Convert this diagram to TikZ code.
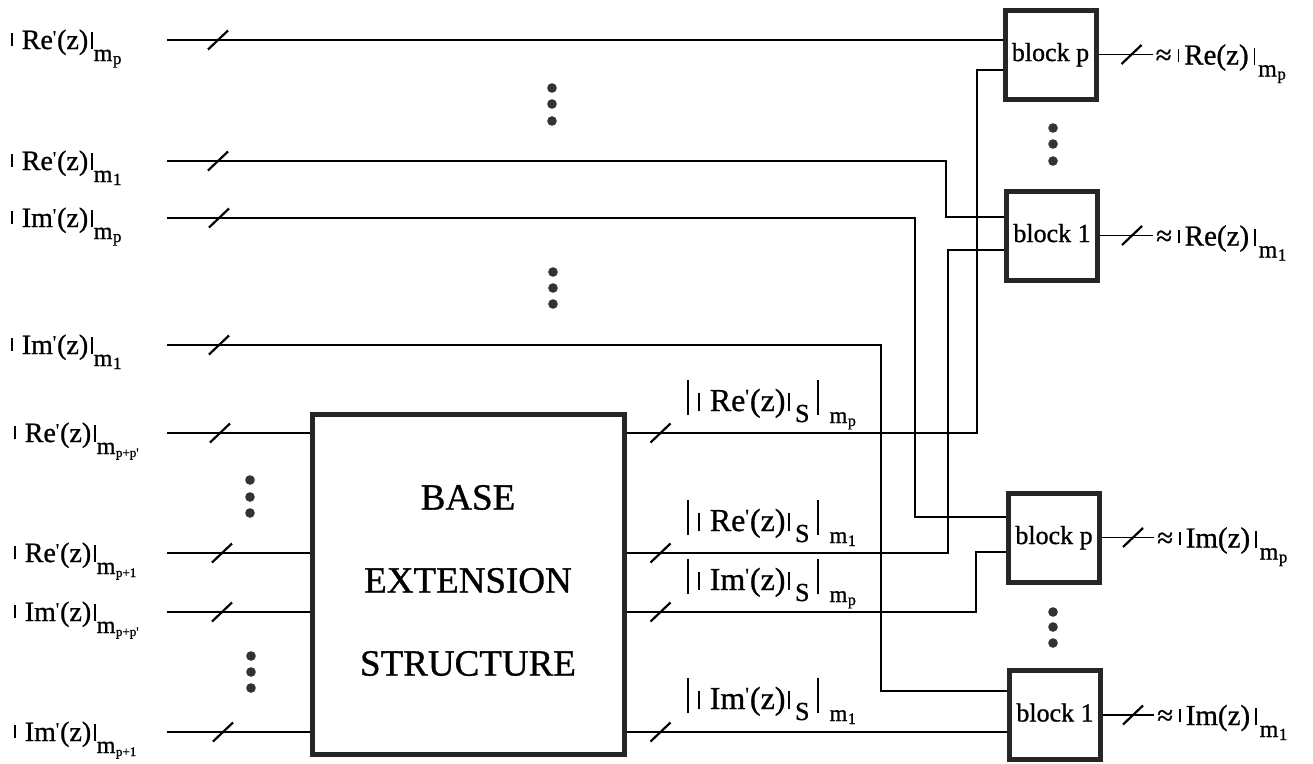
\documentclass[tikz,border=0pt]{standalone}
\usepackage{fontspec}
\setmainfont{Liberation Serif}[RawFeature={embolden=0.9}]
\usetikzlibrary{calc}
% small bars and sub/superscripts
\newcommand{\obar}{\rule[3pt]{1.6pt}{13pt}}
\newcommand{\cbar}{\rule[0pt]{1.6pt}{17pt}}
\newcommand{\prm}{\raisebox{6pt}{\fontsize{18}{18}\selectfont\textquotesingle}}
\newcommand{\subm}[2][17]{\raisebox{-12pt}{\fontsize{24}{24}\selectfont m\kern0.5pt\raisebox{-3pt}{\fontsize{#1}{#1}\selectfont #2}}}
\newcommand{\tbar}{\rule[-4pt]{2pt}{35pt}}
\newcommand{\mbar}{\rule[0pt]{1.6pt}{18pt}}
\newcommand{\bprm}{\raisebox{8pt}{\fontsize{20}{20}\selectfont\textquotesingle}}
\newcommand{\bsub}[1]{\raisebox{-12pt}{\fontsize{23}{23}\selectfont m\kern0.5pt\raisebox{-3pt}{\fontsize{16}{16}\selectfont #1}}}
\newcommand{\slab}[2]{\tbar\kern9pt\mbar\kern10pt #1\bprm\kern1pt(z)\kern3pt\mbar\kern5pt\raisebox{-11pt}{\fontsize{26}{26}\selectfont S}\kern7pt\tbar\kern11pt\bsub{#2}}
\newcommand{\llab}[3][17]{\obar\kern9pt #2\prm\kern1pt(z)\kern3pt\cbar\kern1pt\subm[#1]{#3}}
\newcommand{\rlab}[2]{≈\kern6pt\obar\kern5pt #1(z)\kern5pt\cbar\kern3pt\subm{#2}}
\tikzset{slashmark/.pic={\draw[line width=2.2pt] (-10,9.5) -- (10,-9.5);}}
\begin{document}
\begin{tikzpicture}[x=1pt,y=-1pt,
  wire/.style={line width=1.9pt},
  blk/.style={draw=black!85, line width=5pt, minimum width=91pt, minimum height=89pt,
    inner sep=0pt, font=\fontsize{26}{26}\selectfont, text height=19pt, text depth=6pt},
  bigbox/.style={draw=black!85, line width=5pt, minimum width=312pt, minimum height=340pt,
    inner sep=0pt},
  bigtext/.style={align=center, inner sep=0pt, font=\fontsize{37}{83}\selectfont},
  lab/.style={anchor=base west, inner sep=0pt, font=\fontsize{28}{28}\selectfont},
  rlabst/.style={anchor=base west, inner sep=0pt, font=\fontsize{29}{29}\selectfont},
  olab/.style={anchor=base west, inner sep=0pt, font=\fontsize{32}{32}\selectfont},
  dot/.style={fill=black!80}]
\fill[white] (0,0) rectangle (1313,763);
\useasboundingbox (0,0) rectangle (1313,763);

% blocks
\node[blk] (rp) at (1050.5,54.5) {block p};
\node[blk] (r1) at (1052,235.5) {block 1};
\node[blk] (ip) at (1054,537.5) {block p};
\node[blk] (i1) at (1055,715) {block 1};
\node[bigbox] (base) at (468,584.5) {};
\node[bigtext] (basetxt) at ($(base.center)+(0,-4)$) {BASE\\EXTENSION\\STRUCTURE};

% input starts
\coordinate (in1) at (167,40);
\coordinate (in2) at (167,161);
\coordinate (in3) at (167,218);
\coordinate (in4) at (167,345);
\coordinate (in5) at (167,433);
\coordinate (in6) at (167,553);
\coordinate (in7) at (167,612);
\coordinate (in8) at (167,732);

% input labels
\node[lab] (t1) at (11,49) {\llab{Re}{p}};
\node[lab] (t2) at (11,170) {\llab{Re}{1}};
\node[lab] (t3) at (11,227) {\llab{Im}{p}};
\node[lab] (t4) at (11,354) {\llab{Im}{1}};
\node[lab] (t5) at (14,442) {\llab[13]{Re}{p+p\textquotesingle}};
\node[lab] (t6) at (14,562) {\llab[13]{Re}{p+1}};
\node[lab] (t7) at (14,621) {\llab[13]{Im}{p+p\textquotesingle}};
\node[lab] (t8) at (14,741) {\llab[13]{Im}{p+1}};

% wires to blocks
\draw[wire] (in1) -- (in1 -| rp.west);
\draw[wire] (in2) -- (946,161) -- (946,217) -- (r1.west |- 0,217);
\draw[wire] (in3) -- (915,218) -- (915,517) -- (ip.west |- 0,517);
\draw[wire] (in4) -- (881,345) -- (881,691) -- (i1.west |- 0,691);
% wires to base
\draw[wire] (in5) -- (in5 -| base.west);
\draw[wire] (in6) -- (in6 -| base.west);
\draw[wire] (in7) -- (in7 -| base.west);
\draw[wire] (in8) -- (in8 -| base.west);
% base outputs
\draw[wire] (base.east |- in5) -- (977,433) -- (977,70) -- (rp.west |- 0,70);
\draw[wire] (base.east |- in6) -- (948,553) -- (948,250) -- (r1.west |- 0,250);
\draw[wire] (base.east |- in7) -- (976,612) -- (976,552) -- (ip.west |- 0,552);
\draw[wire] (base.east |- in8) -- (i1.west |- in8);

% slashes
\foreach \c/\dx in {in1/51,in2/51,in3/52,in4/52,in5/53,in6/55,in7/55,in8/56}
  \path (\c) ++(\dx,0) pic {slashmark};
\foreach \c in {in5,in6,in7,in8}
  \path (base.east |- \c) ++(34,0) pic {slashmark};

% base output labels
\node[olab] (s1) at (687,411) {\slab{Re}{p}};
\node[olab] (s2) at (687,531) {\slab{Re}{1}};
\node[olab] (s3) at (687,590) {\slab{Im}{p}};
\node[olab] (s4) at (687,709) {\slab{Im}{1}};

% block outputs
\draw[wire] (rp.east) -- ++(54,0) coordinate (rpo);
\draw[wire] (r1.east) -- ++(53,0) coordinate (r1o);
\draw[wire] (ip.east) -- ++(52,0) coordinate (ipo);
\draw[wire] (i1.east) -- ++(51,0) coordinate (i1o);
\foreach \c in {rpo,r1o,ipo,i1o}
  \path (\c) ++(-21,0) pic {slashmark};
\node[rlabst] (o1) at ($(rpo)+(3,10)$) {\rlab{Re}{p}};
\node[rlabst] (o2) at ($(r1o)+(3,10)$) {\rlab{Re}{1}};
\node[rlabst] (o3) at ($(ipo)+(3,10)$) {\rlab{Im}{p}};
\node[rlabst] (o4) at ($(i1o)+(3,10)$) {\rlab{Im}{1}};

% ellipsis dots
\foreach \x/\y in {552/88,552/104,552/121, 553/272,553/288,553/304,
                   250/480,250/497,250/513, 251/656,251/672,251/688,
                   1053/128,1053/144,1053/161, 1053/612,1053/627,1053/643}
  \fill[dot] (\x,\y) circle[radius=4.8pt];
\end{tikzpicture}
\end{document}
